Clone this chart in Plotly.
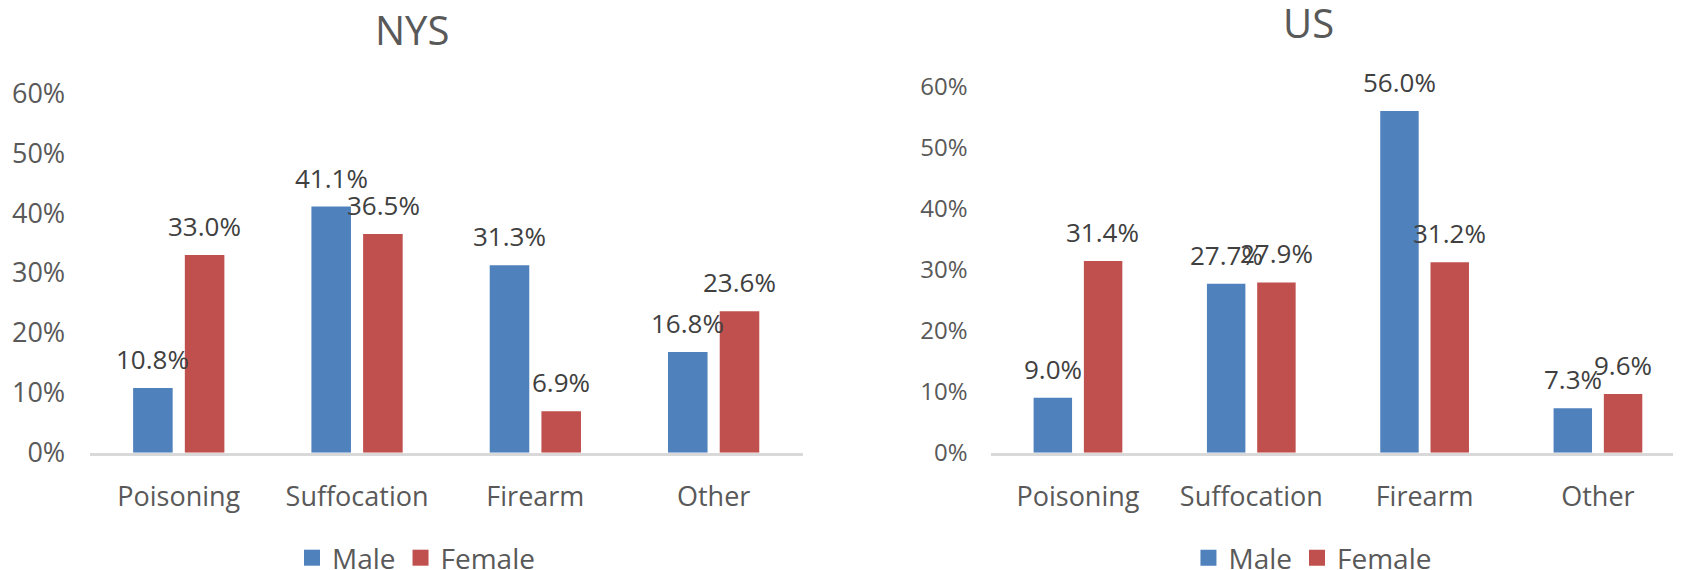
import plotly.graph_objects as go

categories = ["Poisoning", "Suffocation", "Firearm", "Other"]
nys_male = [10.8, 41.1, 31.3, 16.8]
nys_female = [33.0, 36.5, 6.9, 23.6]
us_male = [9.0, 27.7, 56.0, 7.3]
us_female = [31.4, 27.9, 31.2, 9.6]
series_names = ["Male", "Female"]
y_ticks = [0, 0.1, 0.2, 0.3, 0.4, 0.5, 0.6]

BLUE = "#4f81bd"
RED = "#c0504d"
FONT = "Open Sans"
GREY = "#595959"
DARK = "#404040"

fig = go.Figure()

panels = [
    ("x", "y", nys_male, nys_female, "legend", 26),
    ("x2", "y2", us_male, us_female, "legend2", 25),
]

for xa, ya, male, female, leg, shift in panels:
    for name, vals, color, sgn in [(series_names[0], male, BLUE, -1), (series_names[1], female, RED, 1)]:
        fig.add_trace(go.Bar(
            x=categories, y=[v / 100 for v in vals], name=name,
            marker=dict(color=color, line=dict(width=0)),
            xaxis=xa, yaxis=ya, showlegend=False, hoverinfo="skip",
        ))
        # legend-only entry with larger square swatch
        fig.add_trace(go.Scatter(
            x=[None], y=[None], mode="markers", name=name,
            marker=dict(symbol="square", size=16, color=color),
            xaxis=xa, yaxis=ya, legend=leg, showlegend=True,
        ))
        for c, v in zip(categories, vals):
            fig.add_annotation(
                x=c, y=v / 100, xref=xa, yref=ya, text=f"{v:.1f}%",
                showarrow=False, xanchor="center", yanchor="bottom",
                xshift=sgn * shift, yshift=9,
                font=dict(family=FONT, size=26, color=DARK),
            )

axis_common_x = dict(
    type="category", range=[-0.5, 3.5], showgrid=False, zeroline=False,
    showline=True, linecolor="#d9d9d9", linewidth=2.5, ticks="outside",
    ticklen=18, tickcolor="rgba(0,0,0,0)",
    tickfont=dict(family=FONT, size=27, color=GREY),
    fixedrange=True, automargin=False,
)
axis_common_y = dict(
    range=[0, 0.6], tickvals=y_ticks, tickformat=".0%", showgrid=False,
    zeroline=False, showline=False, ticks="outside", ticklen=18,
    tickcolor="rgba(0,0,0,0)", fixedrange=True, automargin=False,
)

legend_common = dict(
    orientation="h", xref="container", yref="container", xanchor="center",
    y=0.0351, yanchor="middle", font=dict(family=FONT, size=28, color=GREY),
    bgcolor="rgba(0,0,0,0)", itemclick=False, itemdoubleclick=False,
)

fig.update_layout(
    width=1681, height=570, autosize=False,
    margin=dict(l=0, r=0, t=0, b=0, autoexpand=False),
    paper_bgcolor="white", plot_bgcolor="white",
    barmode="group", bargap=0.42, bargroupgap=0.235,
    xaxis=dict(domain=[0.04854, 0.47281], anchor="y", **axis_common_x),
    xaxis2=dict(domain=[0.58495, 0.99738], anchor="y2", **axis_common_x),
    yaxis=dict(domain=[0.21982, 0.85035], anchor="x",
               tickfont=dict(family=FONT, size=27, color=GREY), **axis_common_y),
    yaxis2=dict(domain=[0.21982, 0.8623], anchor="x2",
                tickfont=dict(family=FONT, size=24, color=GREY), **axis_common_y),
    legend=dict(x=0.2427, **legend_common),
    legend2=dict(x=0.7760, **legend_common),
    showlegend=True,
)

fig.add_annotation(text="NYS", x=0.24004, y=0.9623, xref="paper", yref="paper",
                   showarrow=False, xanchor="center", yanchor="middle",
                   font=dict(family=FONT, size=40, color=GREY))
fig.add_annotation(text="US", x=0.77394, y=0.9740, xref="paper", yref="paper",
                   showarrow=False, xanchor="center", yanchor="middle",
                   font=dict(family=FONT, size=40, color=GREY))

fig.write_html("out.html", config={"displayModeBar": False})
